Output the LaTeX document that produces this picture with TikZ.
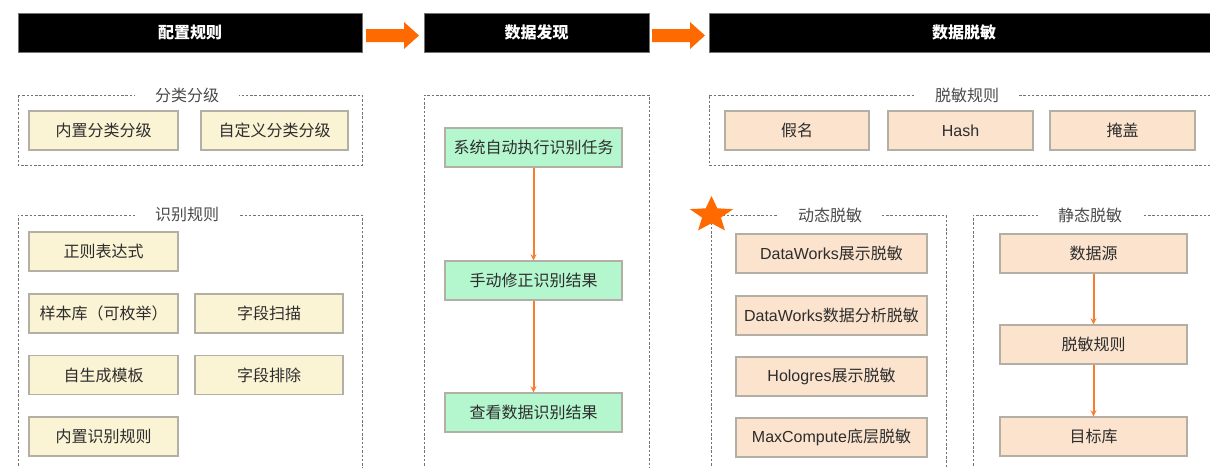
\documentclass[tikz,border=0pt]{standalone}
\usepackage{fontspec}
\setmainfont{Noto Sans CJK SC}
\newfontfamily\latfont{Liberation Sans}
\newcommand{\lat}[1]{{\latfont #1}}
\usetikzlibrary{arrows.meta,shapes.geometric}
\definecolor{orangeA}{RGB}{255,106,0}
\definecolor{orangeL}{RGB}{250,125,45}
\definecolor{yfill}{RGB}{250,243,212}
\definecolor{gfill}{RGB}{180,247,206}
\definecolor{pfill}{RGB}{251,227,205}
\definecolor{bline}{RGB}{180,175,165}
\definecolor{txt}{RGB}{45,45,45}
\definecolor{lbl}{RGB}{75,75,75}
\definecolor{frameC}{RGB}{115,115,115}
\tikzset{
  header/.style={fill=black, draw=black!55, line width=0.8pt, text=white,
    font=\fontsize{16}{16}\selectfont\bfseries, inner sep=0pt},
  cardbox/.style={draw=bline, line width=1.4pt, text=txt, inner sep=0pt,
    font=\fontsize{16}{16}\selectfont, minimum height=39pt},
  ybox/.style={cardbox, fill=yfill},
  gbox/.style={cardbox, fill=gfill},
  pbox/.style={cardbox, fill=pfill},
  frame/.style={draw=frameC, line width=1pt, dash pattern=on 2.5pt off 1.8pt},
  framelabel/.style={fill=white, text=lbl, inner xsep=20pt, inner ysep=1pt,
    font=\fontsize{16}{16}\selectfont},
  fatarrow/.style={fill=orangeA, draw=none},
  flow/.style={draw=orangeL, line width=2pt, -{Stealth[length=6pt,width=6pt]}},
}
\begin{document}
\begin{tikzpicture}[x=1pt,y=-1pt]
\useasboundingbox (0,0) rectangle (1210,467);

% stage headers
\node[header, minimum width=344pt, minimum height=39pt] (h1) at (190,32.5) {配置规则};
\node[header, minimum width=225pt, minimum height=39pt] (h2) at (536.5,32.5) {数据发现};
\node[header, minimum width=510pt, minimum height=39pt] (h3) at (964,32.5) {数据脱敏};

% fat arrows between stages
\fill[fatarrow] (366,29) -- (404,29) -- (404,22) -- (419,35.5) -- (404,49) -- (404,42) -- (366,42) -- cycle;
\fill[fatarrow] (652,29) -- (690,29) -- (690,22) -- (705,35.5) -- (690,49) -- (690,42) -- (652,42) -- cycle;

% ---------- 配置规则 ----------
\draw[frame] (18,95) rectangle (362,165);
\node[framelabel] (l1) at (187,95) {分类分级};
\node[ybox, minimum width=149pt] (c1) at (103.5,130.5) {内置分类分级};
\node[ybox, minimum width=147pt] (c2) at (274.5,130.5) {自定义分类分级};

\draw[frame] (18,470) -- (18,215) -- (362,215) -- (362,470);
\node[framelabel] (l2) at (187,215) {识别规则};
\node[ybox, minimum width=149pt] (r1) at (103.5,251.5) {正则表达式};
\node[ybox, minimum width=149pt] (r2) at (103.5,313.5) {样本库（可枚举）};
\node[ybox, minimum width=148pt] (r3) at (269,313.5) {字段扫描};
\node[ybox, minimum width=149pt] (r4) at (103.5,375) {自生成模板};
\node[ybox, minimum width=148pt] (r5) at (269,375) {字段排除};
\node[ybox, minimum width=149pt] (r6) at (103.5,436.5) {内置识别规则};

% ---------- 数据发现 ----------
\draw[frame] (424,470) -- (424,95) -- (649,95) -- (649,470);
\node[gbox, minimum width=177pt] (d1) at (533.5,147.5) {系统自动执行识别任务};
\node[gbox, minimum width=177pt] (d2) at (533.5,280.5) {手动修正识别结果};
\node[gbox, minimum width=177pt] (d3) at (533.5,412.5) {查看数据识别结果};
\draw[flow] (d1) -- (d2);
\draw[flow] (d2) -- (d3);

% ---------- 数据脱敏 ----------
\draw[frame] (1215,95) -- (709,95) -- (709,165) -- (1215,165);
\node[framelabel] (l3) at (967,95) {脱敏规则};
\node[pbox, minimum width=144pt] (m1) at (797,130.5) {假名};
\node[pbox, minimum width=145pt] (m2) at (960.5,130.5) {\lat{Hash}};
\node[pbox, minimum width=145pt] (m3) at (1122.5,130.5) {掩盖};

\draw[frame] (711,470) -- (711,215) -- (946,215) -- (946,470);
\node[framelabel] (l4) at (830,215) {动态脱敏};
\node[pbox, minimum width=191pt] (y1) at (831.5,253.5) {\lat{DataWorks}展示脱敏};
\node[pbox, minimum width=191pt] (y2) at (831.5,315.5) {\lat{DataWorks}数据分析脱敏};
\node[pbox, minimum width=191pt] (y3) at (831.5,376.5) {\lat{Hologres}展示脱敏};
\node[pbox, minimum width=191pt] (y4) at (831.5,437.5) {\lat{MaxCompute}底层脱敏};
% highlight star, a little wider than tall
\node[star, star points=5, star point ratio=2.3, fill=orangeA, minimum size=38pt,
  inner sep=0pt, xscale=1.2, transform shape] (st) at (711.5,215) {};

\draw[frame] (973,470) -- (973,215) -- (1215,215);
\node[framelabel] (l5) at (1090,215) {静态脱敏};
\node[pbox, minimum width=187pt] (s1) at (1093.5,253.5) {数据源};
\node[pbox, minimum width=187pt] (s2) at (1093.5,344.5) {脱敏规则};
\node[pbox, minimum width=187pt] (s3) at (1093.5,436.5) {目标库};
\draw[flow] (s1) -- (s2);
\draw[flow] (s2) -- (s3);
\end{tikzpicture}
\end{document}
